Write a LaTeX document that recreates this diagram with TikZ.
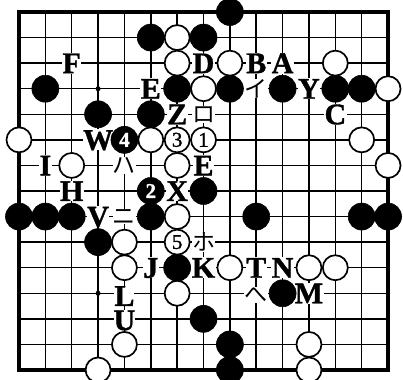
\documentclass[tikz,border=0pt]{standalone}
\usepackage{fontspec}
\setmainfont{Liberation Serif}[FakeBold=1.2]
\newfontfamily\lblfont{Liberation Serif}[FakeBold=1.2]
\newfontfamily\jpfont{Noto Sans CJK JP}
\begin{document}
\begin{tikzpicture}[x=26.36pt,y=-25.57pt,
  bst/.style={circle,fill=black,draw=black,line width=0.6pt,minimum size=27pt,inner sep=0pt},
  wst/.style={circle,fill=white,draw=black,line width=1.7pt,minimum size=25pt,inner sep=0pt},
  lbl/.style={fill=white,inner sep=0.4pt,text height=20pt,text depth=0pt,font=\lblfont\bfseries\fontsize{30}{30}\selectfont},
  jlbl/.style={fill=white,inner sep=0.4pt,font=\jpfont\fontsize{23}{23}\selectfont},
  wnum/.style={wst,font=\lblfont\fontsize{21}{21}\selectfont},
  bnum/.style={bst,text=white,font=\lblfont\bfseries\fontsize{21}{21}\selectfont},
  hoshi/.style={circle,fill=black,inner sep=0pt,minimum size=5pt}]
\useasboundingbox[fill=white] (-0.7208,-0.4693) rectangle (14.5675,14.3528);
% grid
\foreach \i in {1,...,13} {
  \draw[line width=1.5pt] (\i,0) -- (\i,14);
  \draw[line width=1.5pt] (0,\i) -- (14,\i);
}
\draw[line width=3.2pt] (0,0) rectangle (14,14);
\node[hoshi] (h1) at (3,3) {};
\node[hoshi] (h2) at (3,11) {};
% labels
\foreach \c/\r/\t [count=\k] in {2/2/F,7/2/D,9/2/B,10/2/A,5/3/E,11/3/Y,12/4/C,6/4/Z,3/5/W,1/6/I,7/6/E,2/7/H,6/7/X,3/8/V,5/10/J,7/10/K,9/10/T,10/10/N,11/11/M}
  \node[lbl] (l\k) at (\c,\r) {\t};
\node[lbl,inner sep=0pt] (lL) at (4,11.1) {L};
\node[lbl,inner sep=0pt] (lU) at (4,12.05) {U};
\foreach \c/\r/\t [count=\k] in {9/3/イ,7/4/ロ,4/6/ハ,4/8/ニ,7/9/ホ}
  \node[jlbl] (j\k) at (\c,\r) {\t};
\node[jlbl] (j6) at (9,11.08) {へ};
% black stones
\foreach \c/\r [count=\k] in {8/0,5/1,7/1,1/3,6/3,8/3,10/3,12/3,13/3,3/4,5/4,7/7,0/8,1/8,2/8,5/8,9/8,13/8,14/8,3/9,6/10,10/11,7/12,8/13,8/14}
  \node[bst] (b\k) at (\c,\r) {};
% white stones
\foreach \c/\r [count=\k] in {6/1,6/2,8/2,12/2,7/3,14/3,0/5,5/5,13/5,2/6,6/6,14/6,6/8,4/9,4/10,8/10,11/10,12/10,6/11,4/13,3/14,11/13,11/14}
  \node[wst] (w\k) at (\c,\r) {};
% numbered stones
\node[bnum] (n4) at (4,5) {4};
\node[bnum] (n2) at (5,7) {2};
\node[wnum] (n3) at (6,5) {3};
\node[wnum] (n1) at (7,5) {1};
\node[wnum] (n5) at (6,9) {5};
\end{tikzpicture}
\end{document}
